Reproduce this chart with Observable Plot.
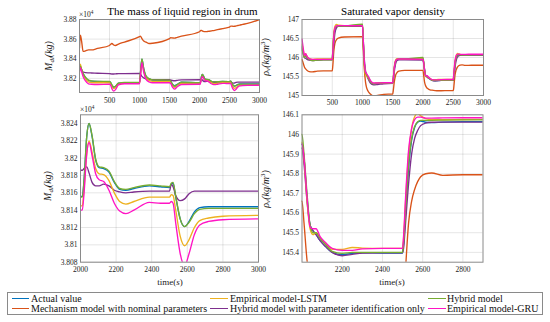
<!DOCTYPE html>
<html>
<head>
<meta charset="utf-8">
<script src="https://cdn.jsdelivr.net/npm/d3@7"></script>
<script src="https://cdn.jsdelivr.net/npm/@observablehq/plot@0.6"></script>
<style>
  body { margin: 0; background: #fff; }
  #root { position: relative; width: 550px; height: 322px; font-family: 'Liberation Serif', 'Times New Roman', serif; color: #1a1a1a; overflow: hidden; }
  #root svg { position: absolute; left: 0; top: 0; }
  .txt { position: absolute; white-space: nowrap; line-height: 1; transform: translate(-50%, -50%); }
  .sub { font-size: 70%; vertical-align: -0.25em; }
  .sup { font-size: 70%; vertical-align: 0.55em; }
  .leg { position: absolute; white-space: nowrap; line-height: 1; font-size: 10px; color: #111; transform: translateY(-50%); }
  .sw { position: absolute; height: 0; border-top: 1.5px solid; }
</style>
</head>
<body>
<div id="root"></div>
<script>
// ---------------- data ----------------
const seriesNames = [
  "Actual value",
  "Mechanism model with nominal parameters",
  "Hybrid model with parameter identification only",
  "Empirical model-LSTM",
  "Hybrid model",
  "Empirical model-GRU"
];
const seriesColors = ["#0072BD", "#D95319", "#7E2F8E", "#EDB120", "#77AC30", "#FF14C4"];

// mass of liquid region in drum (x10^4 kg)
const massTime = [0, 15, 35, 60, 100, 150, 200, 300, 500, 515, 540, 570, 600, 650, 750,
  1000, 1015, 1040, 1070, 1110, 1160, 1220, 1500, 1520, 1550, 1585, 1630, 1700,
  2000, 2010, 2020, 2035, 2048, 2065, 2085, 2105, 2130, 2160, 2190, 2220, 2255, 2300, 2387, 2450, 2500,
  2510, 2520, 2535, 2560, 2585, 2610, 2640, 2670, 2720, 2800, 3000];
const massActual = [3.828, 3.832, 3.829, 3.825, 3.821, 3.818, 3.8172, 3.8168, 3.8167, 3.8160, 3.8130, 3.8110, 3.8118, 3.8150, 3.8157,
  3.8157, 3.8250, 3.8395, 3.8300, 3.8220, 3.8195, 3.8182, 3.8180, 3.8170, 3.8140, 3.8125, 3.8140, 3.8160,
  3.8156, 3.8156, 3.8175, 3.8225, 3.8240, 3.8225, 3.8198, 3.8189, 3.8188, 3.8184, 3.8172, 3.8164, 3.8163, 3.8165, 3.8168, 3.8167, 3.8166,
  3.8170, 3.8171, 3.8155, 3.8130, 3.8121, 3.8127, 3.8138, 3.8143, 3.8144, 3.8144, 3.8144];
const massMechanism = [3.851, 3.864, 3.858, 3.8475, 3.848, 3.849, 3.849, 3.8505, 3.8535, 3.8545, 3.8555, 3.854, 3.8535, 3.855, 3.857,
  3.8625, 3.863, 3.8605, 3.858, 3.857, 3.8555, 3.8558, 3.8605, 3.8615, 3.8612, 3.861, 3.8618, 3.863,
  3.8675, 3.8682, 3.8688, 3.8688, 3.8684, 3.8679, 3.8676, 3.8676, 3.8678, 3.8680, 3.8683, 3.8686, 3.8690, 3.8696, 3.8707, 3.8715, 3.8722,
  3.8728, 3.8733, 3.8733, 3.8730, 3.8731, 3.8735, 3.8739, 3.8743, 3.8750, 3.8760, 3.8800];
const massHybridParam = [3.829, 3.831, 3.8285, 3.8265, 3.8258, 3.8256, 3.8255, 3.8252, 3.8248, 3.8247, 3.8245, 3.8245, 3.8246, 3.8248, 3.8249,
  3.825, 3.8245, 3.822, 3.8205, 3.8195, 3.819, 3.8187, 3.8186, 3.8183, 3.8178, 3.8176, 3.818, 3.8185,
  3.8186, 3.8186, 3.8188, 3.8190, 3.8183, 3.8172, 3.8168, 3.8168, 3.8170, 3.8168, 3.8163, 3.8161, 3.8160, 3.8161, 3.8162, 3.8162, 3.8162,
  3.8170, 3.8167, 3.8157, 3.8151, 3.8153, 3.8159, 3.8162, 3.8162, 3.8162, 3.8162, 3.8162];
const massLSTM = [3.829, 3.8345, 3.829, 3.824, 3.8195, 3.8165, 3.8158, 3.8155, 3.8155, 3.815, 3.8115, 3.8095, 3.8105, 3.8142, 3.815,
  3.815, 3.823, 3.8365, 3.828, 3.8205, 3.818, 3.817, 3.8168, 3.816, 3.8125, 3.8108, 3.813, 3.815,
  3.8145, 3.8145, 3.8165, 3.8205, 3.8220, 3.8207, 3.8188, 3.8182, 3.8181, 3.8174, 3.8160, 3.8150, 3.8147, 3.8150, 3.8155, 3.8155, 3.8155,
  3.8158, 3.8157, 3.8140, 3.8110, 3.8099, 3.8106, 3.8120, 3.8128, 3.8131, 3.8133, 3.8134];
const massHybrid = [3.8285, 3.8325, 3.829, 3.825, 3.821, 3.8182, 3.8175, 3.817, 3.8168, 3.8162, 3.8135, 3.8113, 3.812, 3.8152, 3.8158,
  3.8158, 3.8252, 3.8398, 3.8302, 3.8222, 3.8197, 3.8184, 3.8182, 3.8172, 3.8138, 3.8120, 3.8138, 3.8160,
  3.8155, 3.8155, 3.8174, 3.8225, 3.8240, 3.8226, 3.8199, 3.8190, 3.8189, 3.8185, 3.8173, 3.8165, 3.8164, 3.8166, 3.8169, 3.8168, 3.8167,
  3.8171, 3.8172, 3.8156, 3.8130, 3.8121, 3.8126, 3.8136, 3.8141, 3.8142, 3.8142, 3.8142];
const massGRU = [3.826, 3.831, 3.827, 3.822, 3.8175, 3.8145, 3.814, 3.8138, 3.814, 3.8135, 3.8095, 3.807, 3.8085, 3.8135, 3.8145,
  3.8145, 3.822, 3.836, 3.8265, 3.819, 3.8165, 3.8155, 3.8155, 3.8148, 3.811, 3.809, 3.8115, 3.8138,
  3.8140, 3.8140, 3.8160, 3.8205, 3.8218, 3.8203, 3.8182, 3.8175, 3.8173, 3.8163, 3.8148, 3.8139, 3.8136, 3.8140, 3.8149, 3.8148, 3.8148,
  3.8150, 3.8148, 3.8125, 3.8090, 3.8076, 3.8090, 3.8112, 3.8123, 3.8127, 3.8129, 3.8130];

// saturated vapor density (kg/m^3)
const densTime = [0, 20, 40, 60, 85, 120, 170, 250, 350, 500, 510, 525, 545, 570, 600, 700,
  1000, 1010, 1030, 1050, 1065, 1090, 1130, 1180, 1250, 1350, 1500, 1510, 1525, 1545, 1570, 1600, 1700,
  2000, 2010, 2025, 2040, 2055, 2070, 2090, 2117, 2150, 2200, 2250, 2300, 2400,
  2500, 2505, 2515, 2530, 2545, 2560, 2575, 2590, 2615, 2645, 2700, 2800, 3000];
const densActual = [146.3, 146.15, 146.02, 146.04, 146.0, 145.96, 145.93, 145.94, 145.95, 145.95, 146.2, 146.55, 146.75, 146.82, 146.83, 146.83,
  146.83, 146.5, 145.85, 145.6, 145.55, 145.5, 145.38, 145.31, 145.32, 145.33, 145.33, 145.45, 145.7, 145.88, 145.94, 145.95, 145.95,
  145.95, 145.88, 145.68, 145.54, 145.51, 145.49, 145.46, 145.43, 145.40, 145.388, 145.395, 145.398, 145.397,
  145.397, 145.44, 145.60, 145.83, 145.97, 146.035, 146.062, 146.068, 146.062, 146.060, 146.063, 146.065, 146.065];
const densMechanism = [145.95, 145.85, 145.75, 145.7, 145.66, 145.63, 145.62, 145.64, 145.65, 145.65, 145.8, 146.15, 146.38, 146.47, 146.51, 146.54,
  146.55, 146.3, 145.7, 145.35, 145.22, 145.12, 145.04, 144.99, 145.0, 145.03, 145.04, 145.15, 145.35, 145.52, 145.6, 145.64, 145.66,
  145.66, 145.55, 145.36, 145.27, 145.22, 145.19, 145.17, 145.15, 145.14, 145.13, 145.125, 145.125, 145.128,
  145.13, 145.16, 145.32, 145.55, 145.66, 145.72, 145.76, 145.785, 145.80, 145.804, 145.792, 145.795, 145.795];
const densHybridParam = [146.25, 146.1, 146.0, 145.98, 145.95, 145.93, 145.92, 145.93, 145.94, 145.94, 146.05, 146.35, 146.65, 146.78, 146.82, 146.82,
  146.82, 146.55, 145.95, 145.65, 145.55, 145.45, 145.33, 145.28, 145.29, 145.31, 145.32, 145.42, 145.62, 145.82, 145.92, 145.94, 145.94,
  145.93, 145.85, 145.66, 145.54, 145.51, 145.49, 145.46, 145.43, 145.40, 145.383, 145.39, 145.397, 145.398,
  145.398, 145.42, 145.55, 145.75, 145.90, 145.98, 146.02, 146.045, 146.058, 146.062, 146.063, 146.063, 146.063];
const densLSTM = [146.35, 146.2, 146.05, 146.1, 146.02, 145.97, 145.95, 145.96, 145.96, 145.96, 146.25, 146.62, 146.82, 146.87, 146.85, 146.84,
  146.84, 146.52, 145.82, 145.55, 145.52, 145.48, 145.38, 145.32, 145.33, 145.34, 145.34, 145.48, 145.75, 145.92, 145.97, 145.96, 145.96,
  145.96, 145.88, 145.66, 145.52, 145.49, 145.50, 145.475, 145.445, 145.415, 145.415, 145.425, 145.422, 145.42,
  145.42, 145.47, 145.66, 145.90, 146.03, 146.09, 146.107, 146.095, 146.08, 146.075, 146.075, 146.076, 146.077];
const densHybrid = [146.2, 146.1, 146.0, 146.04, 145.99, 145.95, 145.92, 145.93, 145.94, 145.94, 146.2, 146.55, 146.76, 146.82, 146.83, 146.83,
  146.88, 146.5, 145.85, 145.6, 145.55, 145.49, 145.37, 145.31, 145.32, 145.33, 145.33, 145.46, 145.72, 145.89, 145.95, 145.96, 145.96,
  146.00, 145.90, 145.70, 145.54, 145.50, 145.50, 145.47, 145.44, 145.405, 145.395, 145.40, 145.40, 145.40,
  145.40, 145.45, 145.62, 145.85, 145.98, 146.04, 146.065, 146.072, 146.072, 146.072, 146.073, 146.074, 146.075];
const densGRU = [146.48, 146.25, 146.05, 146.1, 146.02, 145.97, 145.95, 145.95, 145.95, 145.95, 146.15, 146.55, 146.78, 146.83, 146.84, 146.84,
  146.84, 146.55, 145.9, 145.62, 145.58, 145.52, 145.4, 145.33, 145.33, 145.335, 145.335, 145.47, 145.72, 145.9, 145.95, 145.96, 145.96,
  145.95, 145.88, 145.68, 145.53, 145.52, 145.52, 145.48, 145.45, 145.42, 145.41, 145.41, 145.418, 145.42,
  145.42, 145.48, 145.68, 145.92, 146.03, 146.075, 146.088, 146.088, 146.083, 146.083, 146.084, 146.085, 146.085];

// tick labels
const topXTicks = [500, 1000, 1500, 2000, 2500, 3000];
const massTopYTicks = [3.82, 3.84, 3.86, 3.88];
const densTopYTicks = [145, 145.5, 146, 146.5, 147];
const massZoomXTicks = [2000, 2200, 2400, 2600, 2800, 3000];
const massZoomYTicks = [3.808, 3.81, 3.812, 3.814, 3.816, 3.818, 3.82, 3.822, 3.824];
const densZoomXTicks = [2200, 2400, 2600, 2800];
const densZoomYTicks = [145.4, 145.5, 145.6, 145.7, 145.8, 145.9, 146, 146.1];

// ---------------- build ----------------
function longTable(time, cols) {
  const rows = [];
  cols.forEach((vals, k) => vals.forEach((v, i) => rows.push({t: time[i], v, s: seriesNames[k]})));
  return rows;
}
const massRows = longTable(massTime, [massActual, massMechanism, massHybridParam, massLSTM, massHybrid, massGRU]);
const densRows = longTable(densTime, [densActual, densMechanism, densHybridParam, densLSTM, densHybrid, densGRU]);

const fmt = d => String(+d.toFixed(4));
const root = document.getElementById("root");
const serif = "Liberation Serif";

function panel({rows, xDomain, yDomain, xTicks, yTicks, box, xPad}) {
  const [l, t, r, b] = box;
  const svg = Plot.plot({
    width: 550, height: 322,
    marginLeft: l, marginTop: t, marginRight: 550 - r, marginBottom: 322 - b,
    style: {background: "transparent", fontFamily: serif, fontSize: "7.5px", color: "#1a1a1a", overflow: "visible"},
    x: {domain: xDomain},
    y: {domain: yDomain},
    color: {domain: seriesNames, range: seriesColors},
    marks: [
      Plot.gridX(xTicks, {stroke: "#000", strokeOpacity: 0.1}),
      Plot.gridY(yTicks, {stroke: "#000", strokeOpacity: 0.1}),
      Plot.line(rows, {x: "t", y: "v", z: "s", stroke: "s", curve: "monotone-x", strokeWidth: 1.35, clip: true}),
      Plot.frame({stroke: "#8a8a8a"}),
      Plot.axisX(xTicks, {tickSize: 0, tickPadding: xPad, tickFormat: fmt, label: null, fontFamily: serif, fontSize: 7.5}),
      Plot.axisY(yTicks, {tickSize: 0, tickPadding: 3, tickFormat: fmt, label: null, fontFamily: serif, fontSize: 7.5})
    ]
  });
  root.appendChild(svg);
}

panel({rows: massRows, xDomain: [0, 3000], yDomain: [3.8056, 3.88], xTicks: topXTicks, yTicks: massTopYTicks, box: [79, 19, 259, 92], xPad: 5.5});
panel({rows: densRows, xDomain: [0, 3000], yDomain: [145, 147], xTicks: topXTicks, yTicks: densTopYTicks, box: [301.5, 19, 483, 95], xPad: 3.8});
panel({rows: massRows, xDomain: [2000, 3000], yDomain: [3.808, 3.825], xTicks: massZoomXTicks, yTicks: massZoomYTicks, box: [80, 114.3, 258, 261.7], xPad: 4.8});
panel({rows: densRows, xDomain: [2000, 2900], yDomain: [145.35, 146.1], xTicks: densZoomXTicks, yTicks: densZoomYTicks, box: [301.5, 114.3, 482.5, 261.7], xPad: 4.8});

// ---------------- text ----------------
function addText(html, cx, cy, size, extra) {
  const d = document.createElement("div");
  d.className = "txt";
  d.innerHTML = html;
  d.style.left = cx + "px";
  d.style.top = cy + "px";
  d.style.fontSize = size + "px";
  if (extra) d.style.transform = "translate(-50%, -50%) " + extra;
  root.appendChild(d);
  return d;
}
const t1 = addText("The mass of liquid region in drum", 182.5, 11, 11); t1.style.color = "#000";
const t2 = addText("Saturated vapor density", 393, 11, 11); t2.style.color = "#000";
const mLab = "<i>M</i><span class='sub'><i>dl</i></span><i>(kg)</i>";
const rLab = "<i>ρ</i><span class='sub'><i>v</i></span><i>(kg/m</i><span class='sup'>3</span><i>)</i>";
addText(mLab, 50, 56, 10, "rotate(-90deg)");
addText(mLab, 49, 186, 10, "rotate(-90deg)");
addText(rLab, 266, 57, 10, "rotate(-90deg)");
addText(rLab, 266, 189, 10, "rotate(-90deg)");
addText("time(<i>s</i>)", 170, 282, 9);
addText("time(<i>s</i>)", 392, 282, 9);
const e1 = addText("×10<span class='sup'>4</span>", 0, 14, 7.5); e1.style.transform = "translate(0, -50%)"; e1.style.left = "79px";
const e2 = addText("×10<span class='sup'>4</span>", 0, 109, 7.5); e2.style.transform = "translate(0, -50%)"; e2.style.left = "80px";

// ---------------- legend ----------------
const legendOrder = [0, 3, 4, 1, 2, 5];
const legendX = [[12, 29, 31], [210, 228, 230], [428, 446, 447]];
const legendY = [298.5, 308.5];
const box = document.createElement("div");
box.style.cssText = "position:absolute;left:7px;top:292px;width:534px;height:21px;border:1px solid #8a8a8a;background:#fff;";
root.appendChild(box);
legendOrder.forEach((k, i) => {
  const col = i % 3, row = Math.floor(i / 3);
  const [x1, x2, xt] = legendX[col];
  const sw = document.createElement("div");
  sw.className = "sw";
  sw.style.left = x1 + "px";
  sw.style.width = (x2 - x1) + "px";
  sw.style.top = (legendY[row] - 0.75) + "px";
  sw.style.borderTopColor = seriesColors[k];
  root.appendChild(sw);
  const tx = document.createElement("div");
  tx.className = "leg";
  tx.style.left = xt + "px";
  tx.style.top = legendY[row] + "px";
  tx.textContent = seriesNames[k];
  root.appendChild(tx);
});
</script>
</body>
</html>
